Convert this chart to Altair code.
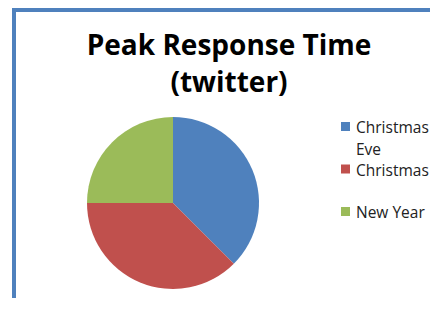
import altair as alt

categories = ["Christmas Eve", "Christmas", "New Year"]
values = [3, 3, 2]
legend_lines = [["Christmas", "Eve"], ["Christmas"], ["New Year"]]
colors = ["#4F81BD", "#C0504D", "#9BBB59"]
title_lines = ["Peak Response Time", "(twitter)"]

FONT = "Open Sans"

pie_rows = [{"cat": c, "value": v, "idx": i} for i, (c, v) in enumerate(zip(categories, values))]
leg_rows = [{"cat": c, "lines": l} for c, l in zip(categories, legend_lines)]

color = alt.Color("cat:N", scale=alt.Scale(domain=categories, range=colors), legend=None)

pie = alt.Chart(alt.Data(values=pie_rows)).mark_arc(radius=86).encode(
    theta=alt.Theta("value:Q", stack=True),
    color=color,
    order=alt.Order("idx:Q"),
    x=alt.value(165),
    y=alt.value(195),
)

ly = alt.Y("cat:N", scale=alt.Scale(type="point", domain=categories, range=[118.5, 203.5], padding=0), axis=None)

leg_sq = alt.Chart(alt.Data(values=leg_rows)).mark_square(size=81, opacity=1).encode(
    x=alt.value(337.5), y=ly, color=color
)
leg_tx = alt.Chart(alt.Data(values=leg_rows)).mark_text(
    align="left", baseline="alphabetic", dy=6.5, font=FONT, fontSize=15.5, lineHeight=22, color="#222222"
).encode(x=alt.value(348), y=ly, text=alt.Text("lines:N"))

t1 = alt.Chart(alt.Data(values=[{"t": title_lines[0]}])).mark_text(
    align="center", baseline="alphabetic", font=FONT, fontWeight="bold", fontSize=28, color="#000000"
).encode(x=alt.value(221), y=alt.value(47), text="t:N")
t2 = alt.Chart(alt.Data(values=[{"t": title_lines[1]}])).mark_text(
    align="center", baseline="alphabetic", font=FONT, fontWeight="bold", fontSize=28, color="#000000"
).encode(x=alt.value(221), y=alt.value(84), text="t:N")

one = alt.Data(values=[{"a": 1}])
left_border = alt.Chart(one).mark_rule(color="#4F81BD", strokeWidth=4).encode(
    x=alt.value(6), y=alt.value(0), y2=alt.value(290))
top_border = alt.Chart(one).mark_rule(color="#4F81BD", strokeWidth=4).encode(
    x=alt.value(4), x2=alt.value(422), y=alt.value(2))

chart = alt.layer(pie, leg_sq, leg_tx, t1, t2, left_border, top_border).properties(
    width=422, height=290, padding=0, autosize=alt.AutoSizeParams(type="none"), background="white"
).configure_view(stroke=None)

chart.save("out.html", embed_options={"renderer": "svg", "actions": False})
